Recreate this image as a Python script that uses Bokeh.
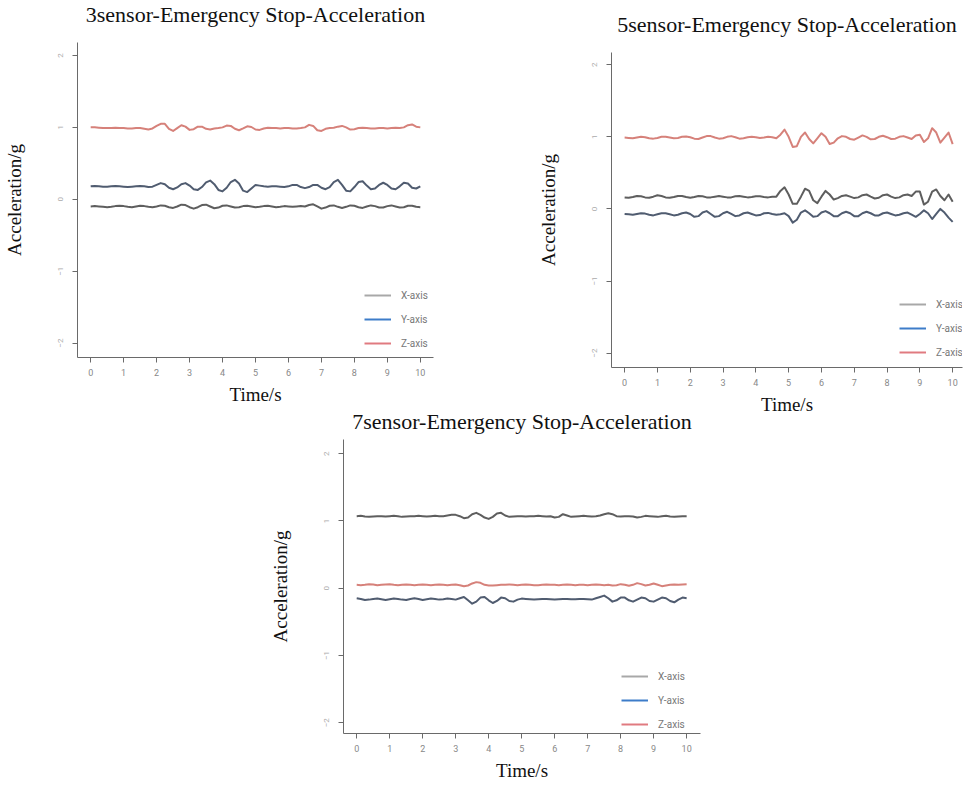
from bokeh.plotting import figure
from bokeh.models import Range1d, Legend, LegendItem, Spacer
from bokeh.layouts import column, row
from bokeh.embed import file_html
from bokeh.resources import INLINE

# ---------------- data ----------------
time_s = [i * 0.125 for i in range(81)]
x_ticks = [0, 1, 2, 3, 4, 5, 6, 7, 8, 9, 10]
y_ticks = [-2, -1, 0, 1, 2]
series_names = ["X-axis", "Y-axis", "Z-axis"]
titles = ["3sensor-Emergency Stop-Acceleration",
          "5sensor-Emergency Stop-Acceleration",
          "7sensor-Emergency Stop-Acceleration"]

# 3 sensor
s3_x = [-0.1, -0.095, -0.1, -0.105, -0.11, -0.105, -0.095, -0.09, -0.095, -0.105, -0.11, -0.1, -0.09, -0.095, -0.105, -0.11,
        -0.1, -0.085, -0.09, -0.11, -0.12, -0.1, -0.075, -0.08, -0.11, -0.13, -0.11, -0.08, -0.075, -0.1, -0.125, -0.115,
        -0.09, -0.085, -0.1, -0.115, -0.11, -0.095, -0.09, -0.1, -0.11, -0.105, -0.095, -0.09, -0.1, -0.11, -0.105, -0.095,
        -0.1, -0.105, -0.1, -0.095, -0.1, -0.08, -0.07, -0.1, -0.13, -0.115, -0.09, -0.085, -0.105, -0.12, -0.105, -0.085,
        -0.09, -0.11, -0.12, -0.1, -0.085, -0.095, -0.115, -0.115, -0.095, -0.085, -0.1, -0.115, -0.11, -0.09, -0.09, -0.105, -0.11]
s3_y = [0.18, 0.185, 0.18, 0.175, 0.175, 0.18, 0.185, 0.18, 0.175, 0.17, 0.175, 0.18, 0.185, 0.18, 0.17, 0.175,
        0.2, 0.225, 0.21, 0.16, 0.14, 0.165, 0.21, 0.225,
        0.19, 0.14, 0.13, 0.17, 0.235, 0.26, 0.21, 0.13, 0.11, 0.16, 0.24, 0.27, 0.22, 0.12, 0.1, 0.15,
        0.2, 0.19, 0.18, 0.175, 0.18, 0.18, 0.175, 0.17,
        0.18, 0.2, 0.2, 0.17, 0.155, 0.17, 0.2, 0.2,
        0.16, 0.14, 0.17, 0.24, 0.27, 0.2, 0.12, 0.11, 0.17, 0.24,
        0.25, 0.19, 0.14, 0.15, 0.2, 0.23, 0.2, 0.15, 0.14, 0.18, 0.23, 0.22, 0.16, 0.15, 0.18]
s3_z = [1.0, 1.0, 0.995, 0.99, 0.99, 0.99, 0.995, 0.99, 0.99, 0.985, 0.985, 0.99, 0.99, 0.98, 0.97, 0.985,
        1.02, 1.05, 1.05, 0.98, 0.95, 0.99, 1.03, 1.01, 0.965, 0.975, 1.01, 1.01, 0.98, 0.97, 0.985, 0.99,
        1.0, 1.025, 1.02, 0.98, 0.96, 0.985, 1.015, 1.005, 0.97, 0.965, 0.985, 0.995, 0.99, 0.99, 0.985, 0.99,
        0.99, 0.985, 0.985, 0.99, 1.0, 1.035, 1.02, 0.96, 0.95, 0.98, 0.99, 0.995, 1.01, 1.02, 1.0, 0.97,
        0.975, 0.99, 0.995, 0.99, 0.985, 0.985, 0.99, 0.99, 0.985, 0.99, 0.995, 0.99, 1.0, 1.03, 1.04, 1.01, 1.0]

# 5 sensor
s5_x = [0.16, 0.155, 0.165, 0.18, 0.175, 0.16, 0.155, 0.17, 0.19, 0.18, 0.16, 0.155, 0.165, 0.18, 0.18, 0.165,
        0.155, 0.165, 0.18, 0.175, 0.16, 0.16, 0.17, 0.18, 0.17, 0.16, 0.16, 0.175, 0.18, 0.17, 0.16, 0.165,
        0.175, 0.175, 0.165, 0.16, 0.17, 0.17, 0.25, 0.3,
        0.2, 0.07, 0.07, 0.17, 0.28, 0.25, 0.12, 0.08, 0.17, 0.25, 0.2, 0.13, 0.15,
        0.18, 0.19, 0.17, 0.15, 0.16, 0.19, 0.2, 0.17, 0.145, 0.155, 0.19, 0.2, 0.17, 0.15, 0.16, 0.19, 0.2,
        0.18, 0.24, 0.24, 0.06, 0.1, 0.24, 0.27, 0.18, 0.12, 0.2, 0.1]
s5_y = [-0.07, -0.075, -0.08, -0.07, -0.06, -0.065, -0.08, -0.09, -0.075, -0.06, -0.06, -0.075, -0.09, -0.08, -0.06, -0.05,
        -0.07, -0.11, -0.1, -0.05, -0.03, -0.07, -0.11, -0.1, -0.06, -0.04, -0.07, -0.1, -0.09, -0.06, -0.05, -0.07,
        -0.09, -0.085, -0.06, -0.055, -0.07, -0.08, -0.075, -0.06,
        -0.1, -0.19, -0.15, -0.05, -0.02, -0.06, -0.11, -0.1, -0.05, -0.03, -0.06, -0.1, -0.1,
        -0.06, -0.04, -0.06, -0.1, -0.1, -0.06, -0.04, -0.06, -0.09, -0.09, -0.06, -0.05, -0.07, -0.09, -0.08, -0.06, -0.05,
        -0.08, -0.11, -0.07, -0.02, -0.06, -0.14, -0.07, 0.0, -0.05, -0.12, -0.18]
s5_z = [0.99, 0.985, 0.98, 0.99, 1.0, 0.995, 0.98, 0.975, 0.985, 1.0, 1.0, 0.99, 0.98, 0.985, 1.0, 1.005,
        0.995, 0.975, 0.97, 0.99, 1.01, 1.01, 0.99, 0.975, 0.98, 1.0, 1.01, 0.995, 0.975, 0.98, 0.995, 1.0,
        0.995, 0.985, 0.99, 1.0, 0.995, 0.98, 1.03, 1.1,
        1.0, 0.86, 0.87, 1.0, 1.06, 0.97, 0.91, 0.98, 1.05, 1.0, 0.9, 0.92, 0.98,
        1.01, 1.0, 0.97, 0.96, 0.99, 1.02, 1.0, 0.965, 0.97, 1.0, 1.015, 0.995, 0.97, 0.975, 1.0, 1.01, 0.99,
        0.97, 1.02, 1.03, 0.93, 0.98, 1.12, 1.06, 0.92, 0.99, 1.06, 0.9]

# 7 sensor
s7_x = [1.07, 1.075, 1.065, 1.06, 1.065, 1.07, 1.07, 1.065, 1.07, 1.075, 1.07, 1.06, 1.065, 1.07, 1.07, 1.075,
        1.07, 1.065, 1.07, 1.075, 1.07, 1.07, 1.08, 1.09, 1.09, 1.07, 1.04, 1.05, 1.1, 1.12, 1.09, 1.05,
        1.03, 1.06, 1.11, 1.12, 1.08, 1.06, 1.065, 1.07, 1.07, 1.065, 1.07, 1.07, 1.075, 1.07, 1.065, 1.07,
        1.05, 1.06, 1.1, 1.08, 1.06, 1.065, 1.07, 1.075, 1.07, 1.065, 1.07, 1.08, 1.1, 1.115, 1.1, 1.07,
        1.065, 1.07, 1.07, 1.065, 1.05, 1.06, 1.075, 1.07, 1.065, 1.06, 1.07, 1.075, 1.065, 1.06, 1.065, 1.07, 1.07]
s7_y = [-0.15, -0.16, -0.175, -0.17, -0.16, -0.155, -0.165, -0.175, -0.165, -0.155, -0.16, -0.17, -0.175, -0.16, -0.15, -0.16,
        -0.175, -0.165, -0.155, -0.16, -0.17, -0.165, -0.155, -0.16, -0.17, -0.15, -0.13, -0.18, -0.23, -0.2, -0.14, -0.13,
        -0.18, -0.22, -0.19, -0.14, -0.15, -0.19, -0.2, -0.17, -0.155, -0.16, -0.165, -0.17, -0.165, -0.16, -0.16, -0.165,
        -0.17, -0.165, -0.16, -0.16, -0.165, -0.165, -0.16, -0.16, -0.165, -0.17, -0.15, -0.13, -0.11, -0.15, -0.2, -0.18,
        -0.14, -0.14, -0.18, -0.2, -0.17, -0.14, -0.15, -0.19, -0.2, -0.17, -0.14, -0.15, -0.19, -0.21, -0.17, -0.14, -0.15]
s7_z = [0.05, 0.045, 0.05, 0.06, 0.055, 0.045, 0.05, 0.055, 0.06, 0.05, 0.045, 0.05, 0.055, 0.05, 0.045, 0.05,
        0.055, 0.05, 0.045, 0.05, 0.055, 0.05, 0.045, 0.05, 0.055, 0.045, 0.03, 0.04, 0.07, 0.09, 0.08, 0.05,
        0.04, 0.04, 0.045, 0.05, 0.05, 0.055, 0.05, 0.045, 0.05, 0.055, 0.05, 0.045, 0.045, 0.05, 0.055, 0.05,
        0.05, 0.045, 0.05, 0.055, 0.05, 0.045, 0.05, 0.05, 0.045, 0.05, 0.055, 0.05, 0.045, 0.05, 0.04, 0.045,
        0.06, 0.05, 0.035, 0.05, 0.075, 0.06, 0.04, 0.05, 0.07, 0.05, 0.03, 0.04, 0.05, 0.055, 0.05, 0.055, 0.06]

# ---------------- styling ----------------
LINE_COLORS = {"X-axis": "#5e5e5e", "Y-axis": "#505c70", "Z-axis": "#d6817a"}
LEGEND_COLORS = {"X-axis": "#a8a8a8", "Y-axis": "#3d7cc9", "Z-axis": "#e07a80"}
SERIF = "Liberation Serif"
NAN = float("nan")


def make_fig(title, data, width, height, xr, yr, top_border, right_border, standoff, legend_xy, margin):
    p = figure(width=width, height=height, output_backend="svg", toolbar_location=None,
               x_range=Range1d(*xr), y_range=Range1d(*yr),
               min_border_left=0, min_border_right=right_border, min_border_top=top_border,
               min_border_bottom=0, margin=margin,
               x_axis_label="Time/s", y_axis_label="Acceleration/g")
    p.title.text = title
    p.title.align = "center"
    p.title.text_font = SERIF
    p.title.text_font_size = "22px"
    p.title.text_font_style = "normal"
    p.title.text_color = "#111111"
    p.title.standoff = standoff
    p.outline_line_color = None
    p.xgrid.visible = False
    p.ygrid.visible = False
    p.background_fill_alpha = 0
    p.border_fill_alpha = 0

    for ax in (p.xaxis[0], p.yaxis[0]):
        ax.axis_line_color = "#6a6a6a"
        ax.major_tick_line_color = "#6a6a6a"
        ax.major_tick_out = 5
        ax.major_tick_in = 0
        ax.minor_tick_line_color = None
        ax.axis_label_text_font = SERIF
        ax.axis_label_text_font_size = "19px"
        ax.axis_label_text_font_style = "normal"
        ax.axis_label_text_color = "#111111"
        ax.major_label_text_font = "Roboto"
    p.xaxis.ticker = x_ticks
    p.xaxis.major_label_text_font_size = "9px"
    p.xaxis.major_label_text_color = "#888888"
    p.xaxis.major_label_standoff = 6
    p.xaxis.axis_label_standoff = 5
    p.yaxis.ticker = y_ticks
    p.yaxis.major_label_orientation = "vertical"
    p.yaxis.major_label_text_font_size = "8px"
    p.yaxis.major_label_text_color = "#aaaaaa"
    p.yaxis.major_label_standoff = 9
    p.yaxis.axis_label_standoff = 31

    for name, vals in data:
        p.line(time_s, vals, line_color=LINE_COLORS[name], line_width=2, line_join="round")

    items = []
    for name in series_names:
        r = p.line(x=[NAN], y=[NAN], line_color=LEGEND_COLORS[name], line_width=2)
        items.append(LegendItem(label=name, renderers=[r]))
    legend = Legend(items=items, location=legend_xy)
    legend.glyph_width = 27
    legend.glyph_height = 14
    legend.spacing = 10
    legend.label_standoff = 10
    legend.padding = 0
    legend.margin = 0
    legend.background_fill_alpha = 0
    legend.border_line_alpha = 0
    legend.label_text_font = "Roboto"
    legend.label_text_font_size = "10px"
    legend.label_text_color = "#777777"
    p.add_layout(legend, "center")
    return p


p1 = make_fig(titles[0], [("Z-axis", s3_z), ("Y-axis", s3_y), ("X-axis", s3_x)],
              438, 424, (-0.4, 10.4), (-2.2, 2.18), 0, 5, 32, (287, 7), (-17, 0, 0, 0))
p2 = make_fig(titles[1], [("Z-axis", s5_z), ("X-axis", s5_x), ("Y-axis", s5_y)],
              434, 424, (-0.4, 10.3), (-2.2, 2.17), 0, 6, 32, (288, 8), (-7, 0, 0, 0))
p3 = make_fig(titles[2], [("X-axis", s7_x), ("Z-axis", s7_z), ("Y-axis", s7_y)],
              439, 382, (-0.4, 10.42), (-2.16, 2.21), 0, 5, 11, (278, 2), (-16, 0, 0, 266))

layout = column(row(p1, Spacer(width=96), p2), p3)

open("out.html", "w").write(file_html(layout, INLINE))
